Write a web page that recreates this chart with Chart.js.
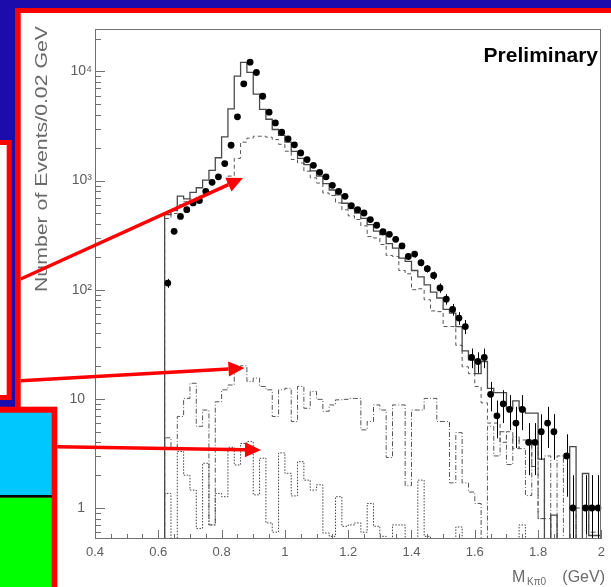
<!DOCTYPE html>
<html>
<head>
<meta charset="utf-8">
<script src="https://cdn.jsdelivr.net/npm/chart.js@4.4.1/dist/chart.umd.min.js"></script>
<style>
  html, body { margin: 0; padding: 0; background: #fff; overflow: hidden; }
  canvas { display: block; }
</style>
</head>
<body>
<canvas id="massChart" width="611" height="587"></canvas>
<script>
// bin edges of the K pi0 mass histogram (0.02 GeV bins)
const binEdges = [0.62, 0.64, 0.66, 0.68, 0.70, 0.72, 0.74, 0.76, 0.78, 0.80,
  0.82, 0.84, 0.86, 0.88, 0.90, 0.92, 0.94, 0.96, 0.98, 1.00,
  1.02, 1.04, 1.06, 1.08, 1.10, 1.12, 1.14, 1.16, 1.18, 1.20,
  1.22, 1.24, 1.26, 1.28, 1.30, 1.32, 1.34, 1.36, 1.38, 1.40,
  1.42, 1.44, 1.46, 1.48, 1.50, 1.52, 1.54, 1.56, 1.58, 1.60,
  1.62, 1.64, 1.66, 1.68, 1.70, 1.72, 1.74, 1.76, 1.78, 1.80,
  1.82, 1.84, 1.86, 1.88, 1.90, 1.92, 1.94, 1.96, 1.98, 2.00];

// data (points with errors)
const dataCounts = [115, 343, 470, 542, 624, 656, 798, 965, 1082, 1432,
  2108, 3840, 7710, 12170, 9790, 5930, 4240, 3380, 2775, 2415,
  2127, 1795, 1559, 1380, 1191, 1082, 905, 798, 718, 590,
  542, 505, 439, 390, 340, 322, 290, 252, 202, 212,
  177, 156, 135, 104, 82, 66, 55, 46, 24, 22,
  24, 11, 7, 9, 8, 6, 8, 4, 4, 5,
  6, 5, 0, 3, 1, 0, 1, 1, 1];

// full MC (solid)
const mcTotal = [139, 488, 530, 720, 680, 780, 860, 1010, 1240, 1620,
  2520, 4550, 9060, 12100, 9800, 6200, 4500, 3650, 2940, 2600,
  2250, 1850, 1600, 1400, 1230, 1100, 940, 820, 740, 620,
  555, 505, 450, 395, 345, 320, 265, 241, 195, 182,
  150, 131, 111, 95, 84, 66, 61, 46, 27.5, 22.8,
  17, 22, 12.5, 11.4, 11.4, 8.2, 9.6, 8.2, 7.4, 7.4,
  2.8, 0, 0.86, 0, 0, 3.65, 0, 2.07, 0.56];

// broad component (dashed)
const broadPart = [130, 450, 500, 600, 640, 680, 720, 750, 790, 830,
  900, 1100, 1600, 2250, 2450, 2550, 2550, 2500, 2380, 2150,
  1860, 1560, 1450, 1220, 1060, 950, 770, 730, 625, 540,
  475, 440, 385, 307, 298, 260, 206, 202, 150, 140,
  100, 102, 81, 64, 63, 46, 46, 31, 19.7, 17,
  13, 9.2, 6.0, 6.0, 4.0, 5.0, 3.5, 4.2, 4.2, 2.4,
  0.8, 0.8, 0, 0, 0, 0, 0, 0, 0];

// flat component (dash-dot)
const flatPart = [1.4, 4.4, 3.6, 6.9, 10.1, 13.9, 5.6, 7.9, 0.7, 9.4,
  12.1, 13.4, 18.5, 20.1, 14.4, 15.5, 13.0, 12.1, 6.9, 12.1,
  12.5, 6.2, 13.0, 8.2, 11.7, 9.9, 7.7, 8.8, 9.8, 9.9,
  10.1, 10.1, 5.2, 6.2, 8.8, 7.9, 2.9, 8.8, 8.8, 1.6,
  7.9, 7.9, 10.1, 10.1, 6.2, 6.2, 1.7, 4.9, 1.7, 1.4,
  1.1, 0, 5.6, 3.0, 5.0, 2.5, 4.5, 3.5, 1.3, 4.0,
  0.8, 3.0, 0, 3.0, 0, 0, 1.0, 1.0, 0.6];

// small component (dotted)
const smallPart = [1.36, 1.36, 0, 3.3, 2.0, 1.46, 0.65, 2.57, 0.7, 1.36,
  1.27, 3.6, 2.48, 3.9, 4.06, 1.32, 2.86, 0.73, 0.6, 3.2,
  2.08, 1.29, 2.66, 1.8, 1.46, 1.63, 0.59, 0.55, 1.27, 0.68,
  0.7, 0.73, 0.6, 1.1, 0.68, 0.55, 0, 0.7, 0.7, 0,
  0, 1.8, 0.55, 0, 0, 0, 0, 0.67, 0, 0,
  0, 0, 0, 0, 0, 0, 0, 0.7, 0, 0,
  0, 0, 0, 0, 0, 0, 0, 0, 0];

const xTickValues = [0.4, 0.6, 0.8, 1.0, 1.2, 1.4, 1.6, 1.8, 2.0];
const xTickLabels = ["0.4", "0.6", "0.8", "1", "1.2", "1.4", "1.6", "1.8", "2"];
const yTickValues = [1, 10, 100, 1000, 10000];
const yTickLabels = ["1\u2002", "10\u2002", "10\u00b2", "10\u00b3", "10\u2074"];

const GRAY = "#5e5e5e";
const FONT = '"Liberation Sans", Arial, sans-serif';

function histPoints(values) {
  const floor = 0.1; // empty bins drop below the axis
  const pts = [{ x: binEdges[0], y: floor }];
  values.forEach((v, i) => pts.push({ x: binEdges[i], y: v > 0 ? v : floor }));
  const last = values.length - 1;
  pts.push({ x: binEdges[last + 1], y: values[last] > 0 ? values[last] : floor });
  return pts;
}

function histSet(values, color, width, dash) {
  return {
    data: histPoints(values),
    showLine: true,
    stepped: "after",
    borderColor: color,
    borderWidth: width,
    borderDash: dash,
    pointRadius: 0,
    fill: false,
  };
}

const dataPoints = [];
dataCounts.forEach((n, i) => {
  if (n > 0) dataPoints.push({ x: (binEdges[i] + binEdges[i + 1]) / 2, y: n });
});

function arrow(c, x0, y0, x1, y1) {
  const a = Math.atan2(y1 - y0, x1 - x0);
  const len = 16, half = 7.5;
  const bx = x1 - len * Math.cos(a), by = y1 - len * Math.sin(a);
  c.beginPath();
  c.moveTo(x0, y0);
  c.lineTo(bx, by);
  c.stroke();
  c.beginPath();
  c.moveTo(x1, y1);
  c.lineTo(bx + half * Math.sin(a), by - half * Math.cos(a));
  c.lineTo(bx - half * Math.sin(a), by + half * Math.cos(a));
  c.closePath();
  c.fill();
}

const decor = {
  id: "decor",
  beforeDraw(chart) {
    const c = chart.ctx;
    c.save();
    c.fillStyle = "#fff";
    c.fillRect(0, 0, 611, 587);
    // slide background
    c.fillStyle = "#1c0cab";
    c.fillRect(0, 0, 611, 8);
    c.fillRect(0, 0, 15, 407);
    c.fillStyle = "#ff0000";
    c.fillRect(15, 8, 596, 5);
    c.fillRect(15, 8, 5.7, 579);
    c.fillRect(0, 140, 11.7, 260);
    c.fillStyle = "#fff";
    c.fillRect(0, 145, 6.7, 250);
    c.fillStyle = "#ff0000";
    c.fillRect(0, 406.7, 57.3, 181);
    c.fillStyle = "#00c8ff";
    c.fillRect(0, 412.7, 51.7, 82.3);
    c.fillStyle = "#000";
    c.fillRect(0, 495, 51.7, 2.7);
    c.fillStyle = "#00ff00";
    c.fillRect(0, 497.7, 51.7, 90);
    c.restore();
  },
  afterDatasetsDraw(chart) {
    // poisson error bars on the data points
    const c = chart.ctx, xs = chart.scales.x, ys = chart.scales.y, a = chart.chartArea;
    c.save();
    c.beginPath();
    c.rect(a.left, a.top, a.right - a.left, a.bottom - a.top);
    c.clip();
    c.strokeStyle = "#000";
    c.lineWidth = 1;
    dataPoints.forEach(p => {
      const e = Math.sqrt(p.y);
      const px = Math.round(xs.getPixelForValue(p.x)) + 0.5;
      const top = ys.getPixelForValue(p.y + e);
      const bot = p.y - e > 0 ? ys.getPixelForValue(p.y - e) : a.bottom;
      c.beginPath();
      c.moveTo(px, top);
      c.lineTo(px, bot);
      c.stroke();
    });
    c.restore();
  },
  afterDraw(chart) {
    const c = chart.ctx, xs = chart.scales.x, ys = chart.scales.y, a = chart.chartArea;
    c.save();
    // frame
    c.strokeStyle = "#707070";
    c.lineWidth = 1;
    c.strokeRect(Math.round(a.left) + 0.5, Math.round(a.top) + 0.5,
      Math.round(a.right - a.left) - 1, Math.round(a.bottom - a.top) - 1);
    // inward ticks, y axis (log)
    c.beginPath();
    [0.1, 1, 10, 100, 1000, 10000].forEach(d => {
      for (let m = 1; m <= 9; m++) {
        const v = d * m;
        if (v < ys.min || v > ys.max) continue;
        const py = Math.round(ys.getPixelForValue(v)) + 0.5;
        c.moveTo(a.left, py);
        c.lineTo(a.left + (m === 1 ? 10 : 6), py);
      }
    });
    // inward ticks, x axis
    for (let k = 0; k <= 32; k++) {
      const v = 0.4 + k * 0.05;
      const px = Math.round(xs.getPixelForValue(v)) + 0.5;
      c.moveTo(px, a.bottom);
      c.lineTo(px, a.bottom - (k % 4 === 0 ? 9 : 5));
    }
    c.stroke();

    // axis titles
    c.fillStyle = "#6a6a6a";
    c.font = "16px " + FONT;
    c.textAlign = "left";
    c.textBaseline = "alphabetic";
    const yt = "Number of Events/0.02 GeV";
    const w = c.measureText(yt).width;
    c.save();
    c.translate(47, 292);
    c.rotate(-Math.PI / 2);
    c.scale(266 / w, 1);
    c.fillText(yt, 0, 0);
    c.restore();

    c.font = "16px " + FONT;
    c.fillText("M", 512, 582);
    c.font = "10px " + FONT;
    c.fillText("K\u03c00", 527, 585);
    c.font = "16px " + FONT;
    c.textAlign = "right";
    c.fillText("(GeV)", 605, 582);

    c.fillStyle = "#000";
    c.font = "bold 21px " + FONT;
    c.fillText("Preliminary", 598, 62);

    // red arrows
    c.strokeStyle = "#ff0000";
    c.fillStyle = "#ff0000";
    c.lineWidth = 3.5;
    arrow(c, 20.7, 279, 243, 178);
    arrow(c, 20.7, 380.7, 244.5, 368);
    arrow(c, 57.3, 446.7, 261, 450);
    c.restore();
  }
};

new Chart(document.getElementById("massChart").getContext("2d"), {
  type: "scatter",
  data: {
    datasets: [
      {
        data: dataPoints,
        showLine: false,
        pointRadius: 3.4,
        pointBackgroundColor: "#000",
        pointBorderColor: "#000",
        pointBorderWidth: 0,
      },
      histSet(mcTotal, "#4a4a4a", 1.3, []),
      histSet(broadPart, "#555", 1, [4, 3]),
      histSet(flatPart, "#555", 1, [5, 2, 1, 2]),
      histSet(smallPart, "#444", 1, [1.5, 1.5]),
    ],
  },
  options: {
    responsive: false,
    animation: false,
    devicePixelRatio: 1,
    layout: { padding: { left: 0, right: 4, top: 29, bottom: 0 } },
    plugins: { legend: { display: false }, tooltip: { enabled: false } },
    scales: {
      x: {
        type: "linear",
        min: 0.4,
        max: 2.0,
        bounds: "data",
        afterFit: s => { s.height = 48; },
        afterBuildTicks: s => { s.ticks = xTickValues.map(v => ({ value: v })); },
        grid: { display: false, drawTicks: false },
        border: { display: false },
        ticks: {
          autoSkip: false,
          maxRotation: 0,
          padding: 6,
          color: GRAY,
          font: { family: FONT, size: 13 },
          callback: (v, i) => xTickLabels[i],
        },
      },
      y: {
        type: "logarithmic",
        min: 0.52,
        max: 24500,
        bounds: "data",
        afterFit: s => { s.width = 95; },
        afterBuildTicks: s => { s.ticks = yTickValues.map(v => ({ value: v, major: true })); },
        grid: { display: false, drawTicks: false },
        border: { display: false },
        ticks: {
          autoSkip: false,
          padding: 3,
          color: GRAY,
          font: { family: FONT, size: 14 },
          callback: (v, i) => yTickLabels[i],
        },
      },
    },
  },
  plugins: [decor],
});
</script>
</body>
</html>
